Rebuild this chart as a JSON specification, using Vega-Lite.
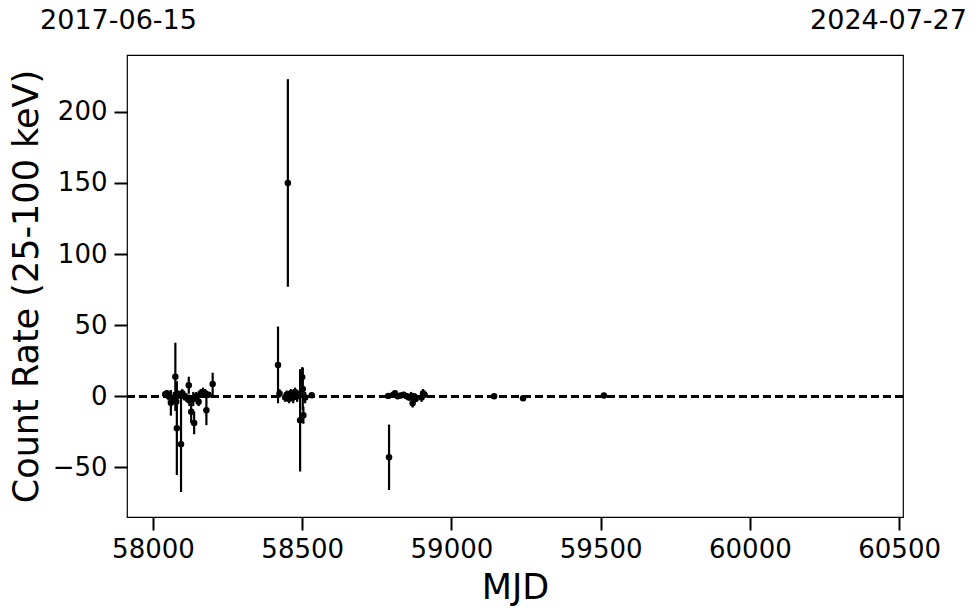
{
  "$schema": "https://vega.github.io/schema/vega-lite/v6.json",
  "width": 776,
  "height": 462,
  "autosize": "none",
  "padding": {"left": 127, "top": 55, "right": 77, "bottom": 96},
  "background": "white",
  "config": {
    "font": "DejaVu Sans",
    "view": {"stroke": "black", "strokeWidth": 1.2},
    "axis": {"grid": false, "domain": false, "labelFont": "DejaVu Sans", "titleFont": "DejaVu Sans", "labelColor": "black", "titleColor": "black", "tickColor": "black", "titleFontWeight": "normal"}
  },
  "data": {"values": [
    {"mjd": 58041, "rate": 1.4, "err": 2},
    {"mjd": 58047, "rate": 2, "err": 2},
    {"mjd": 58052, "rate": 0, "err": 3},
    {"mjd": 58060, "rate": -4.7, "err": 9},
    {"mjd": 58070, "rate": -1, "err": 4},
    {"mjd": 58075, "rate": 13.6, "err": 24},
    {"mjd": 58078, "rate": -4, "err": 6},
    {"mjd": 58080, "rate": -22.5, "err": 33},
    {"mjd": 58086, "rate": 1, "err": 3},
    {"mjd": 58094, "rate": -33.8, "err": 33.6},
    {"mjd": 58098, "rate": 2, "err": 3},
    {"mjd": 58105, "rate": 0, "err": 3},
    {"mjd": 58112, "rate": -1, "err": 3},
    {"mjd": 58120, "rate": 7.7, "err": 6},
    {"mjd": 58122, "rate": -3, "err": 4},
    {"mjd": 58128, "rate": -11, "err": 8},
    {"mjd": 58135, "rate": -2, "err": 5},
    {"mjd": 58138, "rate": -18.8, "err": 8},
    {"mjd": 58145, "rate": 0, "err": 3},
    {"mjd": 58153, "rate": -4, "err": 3},
    {"mjd": 58160, "rate": 2, "err": 3},
    {"mjd": 58168, "rate": 3, "err": 3},
    {"mjd": 58175, "rate": 2, "err": 3},
    {"mjd": 58179, "rate": -9.9, "err": 10.5},
    {"mjd": 58186, "rate": 1, "err": 2},
    {"mjd": 58200, "rate": 8.5, "err": 8},
    {"mjd": 58419, "rate": 22, "err": 27},
    {"mjd": 58424, "rate": 1.9, "err": 3},
    {"mjd": 58443, "rate": -1, "err": 3},
    {"mjd": 58448, "rate": 1, "err": 3},
    {"mjd": 58452, "rate": 150, "err": 73},
    {"mjd": 58456, "rate": -2, "err": 3},
    {"mjd": 58462, "rate": 2, "err": 3},
    {"mjd": 58470, "rate": -1, "err": 4},
    {"mjd": 58476, "rate": 3, "err": 3},
    {"mjd": 58483, "rate": 0, "err": 4},
    {"mjd": 58490, "rate": 1, "err": 3},
    {"mjd": 58493, "rate": -17, "err": 36},
    {"mjd": 58500, "rate": 13.4, "err": 7},
    {"mjd": 58502, "rate": 5, "err": 15},
    {"mjd": 58504, "rate": -13.4, "err": 6},
    {"mjd": 58510, "rate": -1, "err": 4},
    {"mjd": 58532, "rate": 0.7, "err": 1},
    {"mjd": 58788, "rate": 0.2, "err": 1},
    {"mjd": 58791, "rate": -43, "err": 23},
    {"mjd": 58805, "rate": 1, "err": 2},
    {"mjd": 58811, "rate": 2, "err": 2},
    {"mjd": 58820, "rate": 0, "err": 1.5},
    {"mjd": 58830, "rate": 0.5, "err": 1.5},
    {"mjd": 58840, "rate": 1, "err": 2},
    {"mjd": 58850, "rate": 0, "err": 2},
    {"mjd": 58858, "rate": -1, "err": 2},
    {"mjd": 58865, "rate": 0, "err": 3},
    {"mjd": 58870, "rate": -5, "err": 3},
    {"mjd": 58875, "rate": 0, "err": 2},
    {"mjd": 58880, "rate": -2, "err": 2},
    {"mjd": 58900, "rate": -1, "err": 3},
    {"mjd": 58905, "rate": 2, "err": 3},
    {"mjd": 58910, "rate": 1, "err": 2},
    {"mjd": 59143, "rate": 0, "err": 1},
    {"mjd": 59240, "rate": -1.5, "err": 1},
    {"mjd": 59511, "rate": 0.5, "err": 1}
  ]},
  "layer": [
    {
      "mark": {"type": "errorbar", "ticks": false, "thickness": 2, "color": "black", "rule": {"strokeWidth": 2.2, "color": "black"}},
      "encoding": {
        "x": {"field": "mjd", "type": "quantitative",
          "scale": {"domain": [57913, 60513], "nice": false, "zero": false},
          "axis": {"orient": "bottom", "title": "MJD", "titleFontSize": 35, "titlePadding": 8, "labelFontSize": 26, "labelPadding": 6, "values": [58000, 58500, 59000, 59500, 60000, 60500], "format": "d", "tickSize": 13, "tickWidth": 2, "labelFlush": false}
        },
        "y": {"field": "rate", "type": "quantitative",
          "scale": {"domain": [-85, 240], "nice": false, "zero": false},
          "axis": {"title": "Count Rate (25-100 keV)", "titleFontSize": 35, "titlePadding": 8, "labelFontSize": 26, "labelPadding": 7, "values": [-50, 0, 50, 100, 150, 200], "tickSize": 13, "tickWidth": 2}
        },
        "yError": {"field": "err"}
      }
    },
    {
      "mark": {"type": "rule", "color": "black", "strokeWidth": 2, "strokeDash": [8, 4]},
      "encoding": {"y": {"datum": 0}}
    },
    {
      "mark": {"type": "point", "filled": true, "shape": "circle", "size": 42, "color": "black", "opacity": 1},
      "encoding": {
        "x": {"field": "mjd", "type": "quantitative", "axis": null},
        "y": {"field": "rate", "type": "quantitative"}
      }
    },
    {
      "data": {"values": [{"mjd": 57913, "label": "2017-06-15"}, {"mjd": 60513, "label": "2024-07-27"}]},
      "mark": {"type": "point", "opacity": 0},
      "encoding": {
        "x": {"field": "mjd", "type": "quantitative",
          "axis": {"orient": "top", "title": null, "values": [57913, 60513], "ticks": false, "labelFontSize": 27, "labelPadding": 21,
            "labelExpr": "datum.value < 59000 ? '2017-06-15' : '2024-07-27'",
            "labelAlign": "center", "labelOffset": {"condition": {"test": "datum.value < 59000", "value": -9}, "value": -15}, "labelFlush": false, "labelOverlap": false}
        },
        "y": {"datum": 0}
      }
    }
  ],
  "resolve": {"axis": {"x": "independent"}}
}
